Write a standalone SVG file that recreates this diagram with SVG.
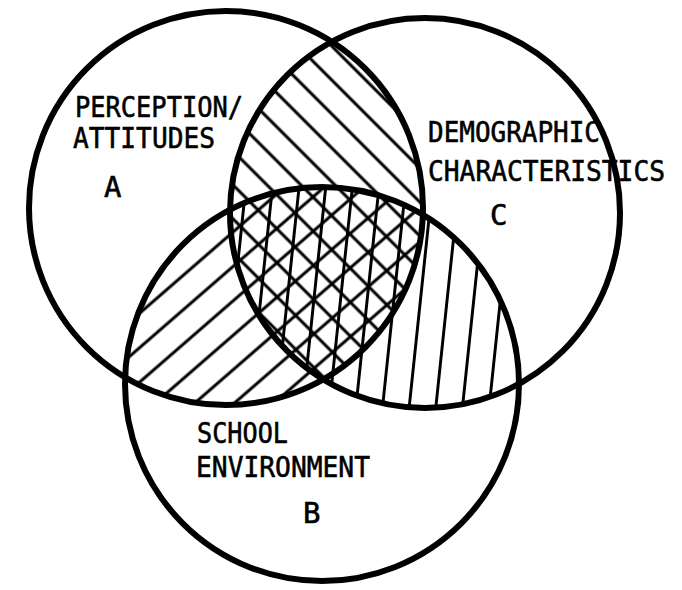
<svg xmlns="http://www.w3.org/2000/svg" width="682" height="590" viewBox="0 0 682 590">
<defs>
<style>
.ring{fill:none;stroke:#000;stroke-width:6}
.lbl{font-family:"DejaVu Sans Mono","Liberation Mono",monospace;font-size:29px;fill:#000;stroke:#000;stroke-width:0.6}
.hl{stroke:#000;stroke-width:3}
</style>
<clipPath id="cA"><circle cx="226" cy="208" r="197"/></clipPath>
<clipPath id="cB"><circle cx="322" cy="384" r="197"/></clipPath>
<clipPath id="cC"><circle cx="425" cy="213" r="195"/></clipPath>
<pattern id="pBack" patternUnits="userSpaceOnUse" width="24" height="24" patternTransform="rotate(45)"><line class="hl" x1="-1" y1="14" x2="25" y2="14"/></pattern>
<pattern id="pFwd" patternUnits="userSpaceOnUse" width="26" height="26" patternTransform="rotate(-41)"><line class="hl" x1="-1" y1="16" x2="27" y2="16"/></pattern>
<pattern id="pVert" patternUnits="userSpaceOnUse" x="0" y="12.25" width="26.5" height="26.5" patternTransform="rotate(-84)"><line class="hl" x1="-1" y1="13.25" x2="27.5" y2="13.25"/></pattern>
</defs>
<rect width="682" height="590" fill="#fff"/>
<g id="hatching">
<g clip-path="url(#cA)"><g clip-path="url(#cC)"><rect width="682" height="590" fill="url(#pBack)"/></g></g>
<g clip-path="url(#cA)"><g clip-path="url(#cB)"><rect width="682" height="590" fill="url(#pFwd)"/></g></g>
<g clip-path="url(#cB)"><g clip-path="url(#cC)"><rect width="682" height="590" fill="url(#pVert)"/></g></g>
</g>
<g id="set-a">
<circle class="ring" cx="226" cy="208" r="197"/>
<text class="lbl" x="75" y="117" textLength="168" lengthAdjust="spacingAndGlyphs">PERCEPTION/</text>
<text class="lbl" x="73" y="148" textLength="142" lengthAdjust="spacingAndGlyphs">ATTITUDES</text>
<text class="lbl" x="104" y="197">A</text>
</g>
<g id="set-c">
<circle class="ring" cx="425" cy="213" r="195"/>
<text class="lbl" x="428" y="142" textLength="172" lengthAdjust="spacingAndGlyphs">DEMOGRAPHIC</text>
<text class="lbl" x="428" y="181" textLength="237" lengthAdjust="spacingAndGlyphs">CHARACTERISTICS</text>
<text class="lbl" x="490" y="225">C</text>
</g>
<g id="set-b">
<circle class="ring" cx="322" cy="384" r="197"/>
<text class="lbl" x="197" y="443" textLength="91" lengthAdjust="spacingAndGlyphs">SCHOOL</text>
<text class="lbl" x="196" y="477" textLength="174" lengthAdjust="spacingAndGlyphs">ENVIRONMENT</text>
<text class="lbl" x="303" y="523">B</text>
</g>
</svg>
